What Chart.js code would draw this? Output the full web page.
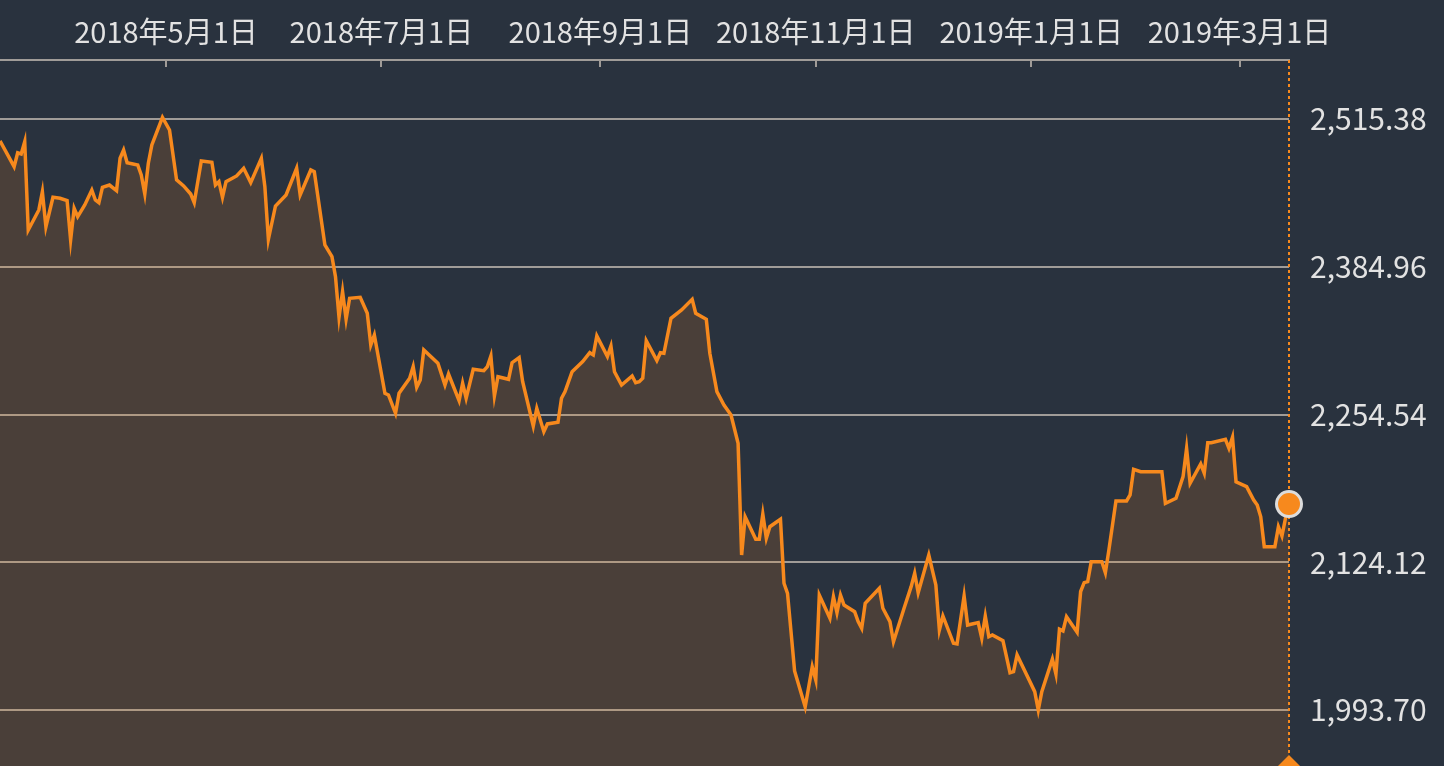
<!DOCTYPE html>
<html>
<head>
<meta charset="utf-8">
<script src="https://cdn.jsdelivr.net/npm/chart.js@4.4.1/dist/chart.umd.min.js"></script>
<style>
  html, body { margin: 0; padding: 0; background: #29323e; }
  #wrap { width: 1444px; height: 766px; position: relative; }
</style>
</head>
<body>
<div id="wrap"><canvas id="grafico"></canvas></div>
<script>
// trading days
const fechas = [
  "2018-03-15","2018-03-19","2018-03-20","2018-03-21","2018-03-22","2018-03-23","2018-03-26","2018-03-27","2018-03-28","2018-03-30",
  "2018-04-01","2018-04-03","2018-04-04","2018-04-05","2018-04-06","2018-04-08","2018-04-10","2018-04-11","2018-04-12","2018-04-13",
  "2018-04-15","2018-04-17","2018-04-18","2018-04-19","2018-04-20","2018-04-23","2018-04-24","2018-04-25","2018-04-26","2018-04-27",
  "2018-04-30","2018-05-02","2018-05-04","2018-05-06","2018-05-08","2018-05-09","2018-05-11","2018-05-14","2018-05-15","2018-05-16",
  "2018-05-17","2018-05-18","2018-05-21","2018-05-23","2018-05-25","2018-05-28","2018-05-29","2018-05-30","2018-06-01","2018-06-04",
  "2018-06-07","2018-06-08","2018-06-11","2018-06-12","2018-06-15","2018-06-17","2018-06-18","2018-06-19","2018-06-20","2018-06-21",
  "2018-06-22","2018-06-25","2018-06-27","2018-06-28","2018-06-29","2018-07-02","2018-07-03","2018-07-05","2018-07-06","2018-07-09",
  "2018-07-10","2018-07-11","2018-07-12","2018-07-13","2018-07-17","2018-07-19","2018-07-20","2018-07-23","2018-07-24","2018-07-25",
  "2018-07-27","2018-07-30","2018-07-31","2018-08-01","2018-08-02","2018-08-03","2018-08-06","2018-08-07","2018-08-09","2018-08-10",
  "2018-08-13","2018-08-14","2018-08-16","2018-08-17","2018-08-20","2018-08-21","2018-08-22","2018-08-24","2018-08-27","2018-08-29",
  "2018-08-30","2018-08-31","2018-09-03","2018-09-04","2018-09-05","2018-09-07","2018-09-10","2018-09-11","2018-09-12","2018-09-13",
  "2018-09-14","2018-09-17","2018-09-18","2018-09-19","2018-09-21","2018-09-24","2018-09-27","2018-09-28","2018-10-01","2018-10-02",
  "2018-10-04","2018-10-06","2018-10-08","2018-10-10","2018-10-11","2018-10-12","2018-10-15","2018-10-16","2018-10-17","2018-10-18",
  "2018-10-19","2018-10-22","2018-10-23","2018-10-24","2018-10-26","2018-10-29","2018-10-31","2018-11-01","2018-11-02","2018-11-05",
  "2018-11-06","2018-11-07","2018-11-08","2018-11-09","2018-11-12","2018-11-13","2018-11-14","2018-11-15","2018-11-19","2018-11-20",
  "2018-11-22","2018-11-23","2018-11-26","2018-11-28","2018-11-29","2018-11-30","2018-12-03","2018-12-05","2018-12-06","2018-12-07",
  "2018-12-10","2018-12-11","2018-12-13","2018-12-14","2018-12-17","2018-12-18","2018-12-19","2018-12-20","2018-12-21","2018-12-24",
  "2018-12-26","2018-12-27","2018-12-28","2019-01-02","2019-01-03","2019-01-04","2019-01-07","2019-01-08","2019-01-09","2019-01-10",
  "2019-01-11","2019-01-14","2019-01-15","2019-01-16","2019-01-17","2019-01-18","2019-01-21","2019-01-22","2019-01-23","2019-01-25",
  "2019-01-28","2019-01-29","2019-01-30","2019-02-01","2019-02-07","2019-02-08","2019-02-11","2019-02-13","2019-02-14","2019-02-15",
  "2019-02-18","2019-02-19","2019-02-20","2019-02-21","2019-02-25","2019-02-26","2019-02-27","2019-02-28","2019-03-03","2019-03-05",
  "2019-03-06","2019-03-07","2019-03-08","2019-03-11","2019-03-12","2019-03-13","2019-03-14","2019-03-15"
]
const valores = [
  2496.0,2473.3,2485.6,2484.5,2495.4,2417.4,2435.1,2451.2,2420.3,2446.3,
  2445.4,2443.3,2408.6,2436.6,2429.2,2439.5,2452.7,2443.9,2441.5,2455.1,
  2457.1,2452.1,2480.7,2488.0,2476.8,2474.8,2466.0,2449.2,2476.3,2492.5,
  2516.9,2505.7,2461.6,2456.3,2449.2,2441.5,2478.3,2477.2,2457.1,2460.1,
  2446.3,2460.1,2465.1,2471.9,2459.2,2480.7,2455.6,2409.2,2438.6,2448.3,
  2471.9,2448.3,2470.4,2468.9,2404.2,2393.9,2376.2,2340.4,2363.0,2338.6,
  2357.1,2358.0,2343.9,2315.9,2324.7,2273.3,2271.8,2255.6,2273.3,2286.5,
  2296.8,2278.6,2285.0,2311.5,2299.8,2280.6,2290.3,2266.7,2282.1,2268.9,
  2294.5,2293.2,2296.8,2306.2,2270.9,2287.9,2285.6,2300.3,2304.7,2283.5,
  2244.4,2260.0,2239.4,2246.2,2247.7,2268.9,2274.7,2292.3,2301.2,2309.1,
  2307.1,2323.9,2305.8,2315.0,2292.3,2280.6,2288.5,2282.6,2283.5,2286.5,
  2319.7,2302.1,2309.1,2308.6,2339.5,2346.8,2356.2,2343.9,2338.6,2308.6,
  2274.7,2262.9,2254.1,2229.1,2130.5,2164.3,2144.4,2144.4,2166.7,2145.3,
  2155.5,2162.1,2105.6,2096.7,2028.1,1996.4,2031.9,2020.2,2095.2,2074.7,
  2093.7,2079.6,2095.2,2086.4,2080.5,2071.7,2065.8,2087.9,2101.1,2083.5,
  2071.7,2054.0,2083.5,2102.6,2114.4,2097.3,2130.5,2104.1,2064.3,2076.7,
  2052.6,2052.0,2094.4,2068.7,2070.8,2057.0,2076.7,2058.4,2059.9,2054.9,
  2026.6,2027.5,2042.3,2009.9,1993.7,2009.9,2038.7,2025.5,2065.0,2063.5,
  2076.1,2062.4,2098.3,2106.1,2107.0,2124.6,2124.6,2114.9,2135.0,2178.2,
  2178.2,2183.5,2206.2,2204.1,2204.1,2176.2,2180.6,2199.7,2224.7,2193.8,
  2210.9,2202.7,2229.7,2229.7,2232.7,2224.7,2234.4,2195.2,2190.8,2179.1,
  2174.7,2164.3,2137.9,2137.9,2155.5,2147.3,2162.9,2175.5
]
const tickFechas = ["2018-05-01","2018-07-01","2018-09-01","2018-11-01","2019-01-01","2019-03-01"]
const tickLabels = ["2018年5月1日","2018年7月1日","2018年9月1日","2018年11月1日","2019年1月1日","2019年3月1日"]
const yTicks = [1993.70, 2124.12, 2254.54, 2384.96, 2515.38]
const yMin = 1944.27
const yMax = 2567.46

const naranja = "#f7891d"
const gris = "#a09c98"
const texto = "#e2e2e2"
const fuente = "'Noto Sans CJK JP', 'Noto Sans', sans-serif"

const base = Date.UTC(2018, 2, 15)
function dia (f) {
    const p = f.split("-").map(Number)
    return (Date.UTC(p[0], p[1] - 1, p[2]) - base) / 86400000
}

const puntos = fechas.map((f, i) => ({ x: dia(f), y: valores[i] }))
const ultimo = puntos.length - 1

const extras = {
    id: "extras",
    beforeDatasetsDraw (chart) {
        const { ctx, chartArea, scales } = chart
        ctx.save()
        // tick marks hanging under the top axis
        ctx.strokeStyle = gris
        ctx.lineWidth = 2
        scales.x.ticks.forEach(t => {
            const px = Math.round(scales.x.getPixelForValue(t.value))
            ctx.beginPath()
            ctx.moveTo(px, chartArea.top)
            ctx.lineTo(px, chartArea.top + 7)
            ctx.stroke()
        })
        // dotted line at the last point
        const lx = Math.round(scales.x.getPixelForValue(puntos[ultimo].x))
        ctx.strokeStyle = naranja
        ctx.setLineDash([3, 3])
        ctx.beginPath()
        ctx.moveTo(lx, chartArea.top)
        ctx.lineTo(lx, chartArea.bottom)
        ctx.stroke()
        ctx.setLineDash([])
        ctx.fillStyle = naranja
        ctx.beginPath()
        ctx.moveTo(lx, chartArea.bottom - 11)
        ctx.lineTo(lx + 12, chartArea.bottom + 1)
        ctx.lineTo(lx - 12, chartArea.bottom + 1)
        ctx.closePath()
        ctx.fill()
        ctx.restore()
    }
}

const config = {
    type: "line",
    data: {
        datasets: [{
            data: puntos,
            borderColor: naranja,
            borderWidth: 3.5,
            borderJoinStyle: "miter",
            backgroundColor: "rgba(247,137,29,0.16)",
            fill: "start",
            tension: 0,
            clip: false,
            pointRadius: ctx => ctx.dataIndex === ultimo ? 12.5 : 0,
            pointBackgroundColor: naranja,
            pointBorderColor: "#dcdcdc",
            pointBorderWidth: 3
        }]
    },
    options: {
        responsive: true,
        maintainAspectRatio: false,
        animation: false,
        events: [],
        layout: { padding: 0, autoPadding: false },
        plugins: { legend: { display: false }, tooltip: { enabled: false } },
        scales: {
            x: {
                type: "linear",
                position: "top",
                min: puntos[0].x,
                max: puntos[ultimo].x,
                afterBuildTicks: s => { s.ticks = tickFechas.map(f => ({ value: dia(f) })) },
                afterFit: s => { s.height = 60; s.paddingLeft = 0; s.paddingRight = 0 },
                grid: { drawOnChartArea: false, drawTicks: false },
                border: { display: true, color: gris, width: 2 },
                ticks: {
                    color: texto,
                    padding: 11,
                    maxRotation: 0,
                    autoSkip: false,
                    font: { family: fuente, size: 29 },
                    callback: (v, i) => tickLabels[i]
                }
            },
            y: {
                position: "right",
                min: yMin,
                max: yMax,
                afterBuildTicks: s => { s.ticks = yTicks.map(v => ({ value: v })) },
                afterFit: s => { s.width = 155; s.paddingTop = 0; s.paddingBottom = 0 },
                grid: { color: gris, lineWidth: 2, drawTicks: false },
                border: { display: false },
                ticks: {
                    color: texto,
                    padding: 21,
                    font: { family: fuente, size: 30 },
                    callback: v => v.toLocaleString("en-US", { minimumFractionDigits: 2, maximumFractionDigits: 2 })
                }
            }
        }
    },
    plugins: [extras]
}

const chart = new Chart(document.getElementById("grafico"), config)
</script>
</body>
</html>
